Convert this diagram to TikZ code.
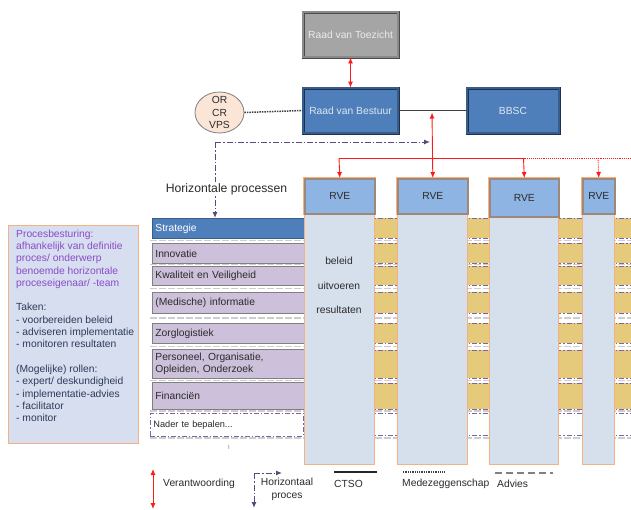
\documentclass[tikz,border=0pt]{standalone}
\usepackage{fontspec}
\setmainfont{Liberation Sans}
\usetikzlibrary{arrows.meta,shapes.geometric}
\definecolor{rvtfill}{HTML}{A5A5A5}
\definecolor{rvtdark}{HTML}{4A4A4A}
\definecolor{rvtmid}{HTML}{8A8A8A}
\definecolor{bluefill}{HTML}{4F7FBA}
\definecolor{bluedark}{HTML}{1E3250}
\definecolor{bluemid}{HTML}{385D8A}
\definecolor{bluetext}{HTML}{DCE6F2}
\definecolor{peach}{HTML}{FBE5D6}
\definecolor{rvehead}{HTML}{8DB4E2}
\definecolor{rveborder}{HTML}{A08878}
\definecolor{orangeb}{HTML}{F4B183}
\definecolor{colfill}{HTML}{D6E0EC}
\definecolor{goldc}{HTML}{E6CA7C}
\definecolor{lav}{HTML}{CCC0DA}
\definecolor{plinec}{HTML}{8064A2}
\definecolor{parrow}{HTML}{5B4A7E}
\definecolor{sepgray}{HTML}{CDCDCD}
\definecolor{infofill}{HTML}{D6DEF0}
\definecolor{purtext}{HTML}{8B4BC8}
\definecolor{navytext}{HTML}{2E3A59}
\definecolor{redc}{HTML}{FF1A1A}
\definecolor{darkline}{HTML}{404040}
\definecolor{bartext}{HTML}{2B2B2B}
\begin{document}
\begin{tikzpicture}[x=1pt,y=-1pt,font=\fontsize{10.3}{12}\selectfont,
  topbox/.style={rectangle,inner sep=0pt,minimum width=95pt,minimum height=45pt,line width=0.9pt},
  rvtbox/.style={topbox,fill=rvtfill,draw=rvtdark,double=rvtmid,double distance=1.2pt,text=white!92!black},
  bluebox/.style={topbox,fill=bluefill,draw=bluedark,double=bluemid,double distance=1.2pt,text=bluetext},
  rvehd/.style={rectangle,anchor=north west,inner sep=0pt,fill=rvehead,
    preaction={draw=orangeb,line width=3pt},draw=rveborder,line width=1.6pt,text=bartext},
  colbody/.style={rectangle,anchor=north west,inner sep=0pt,fill=colfill,draw=orangeb,line width=1.2pt},
  bar/.style={rectangle,anchor=north west,minimum width=154pt,text width=148pt,inner xsep=3pt,
    inner ysep=0pt,align=left,draw=gray,line width=0.8pt,fill=lav,text=bartext},
  rline/.style={draw=redc,line width=0.9pt},
  redarr/.style={rline,{Latex[length=6pt,width=5pt]}-{Latex[length=6pt,width=5pt]}},
  reddown/.style={rline,-{Latex[length=6pt,width=5pt]}},
  purarr/.style={draw=parrow,line width=1pt,dash pattern=on 6pt off 2pt on 1.5pt off 2pt,-{Latex[length=6pt,width=5pt]}},
  stripline/.style={draw=plinec,line width=0.9pt,dash pattern=on 5pt off 2pt on 1.5pt off 2pt},
  sepline/.style={draw=sepgray,line width=1.8pt,dash pattern=on 7pt off 2pt},
  rvetxt/.style={text=bartext,inner sep=1pt},
  legtxt/.style={text=bartext,anchor=west,inner sep=0pt}]
\fill[white] (0,0) rectangle (631,509);
\useasboundingbox (0,0) rectangle (631,509);

% horizontal strips behind the columns
\foreach \t/\b in {218/238,243/263,266/285,292/313,323/343,350/378,383/409}{
  \fill[goldc] (304,\t) rectangle (631,\b);
  \draw[stripline] (304,\t) -- (631,\t);
  \draw[stripline] (304,\b) -- (631,\b);
}
\draw[stripline] (304,413) -- (631,413);
\draw[stripline] (304,435) -- (631,435);
\foreach \y in {240.5,264.5,288.5,318,346.5,380.5,411,438}{
  \draw[sepline] (150,\y) -- (631,\y);
}

% top level
\node[rvtbox] (rvt) at (350.5,34.5) {Raad van Toezicht};
\node[bluebox] (rvb) at (350.5,110.5) {Raad van Bestuur};
\node[bluebox,minimum width=92pt] (bbsc) at (513,110.5) {BBSC};
\node[ellipse,draw=gray,line width=0.8pt,fill=peach,minimum width=49pt,minimum height=41pt,inner sep=0pt] (orcr) at (219.5,112.5) {};
\node[align=center,inner sep=0pt,text=bartext,font=\fontsize{10.3}{12.5}\selectfont] (orcrtxt) at (219.5,112.5) {OR\\CR\\VPS};

\draw[darkline,line width=1.5pt,densely dotted] (orcr.east) -- (rvb.west);
\draw[darkline,line width=1.8pt] (rvb.east) -- (bbsc.west);
\draw[redarr] (rvt.south) -- (rvb.north);

% horizontal process bars
\node[bar,fill=bluefill,draw=bluemid,text=white,minimum height=20pt] (strat) at (152,218) {Strategie};
\node[bar,minimum height=20pt] (innov) at (152,243) {Innovatie};
\node[bar,minimum height=19pt] (kwal) at (152,266) {Kwaliteit en Veiligheid};
\node[bar,minimum height=21pt] (medi) at (152,292) {(Medische) informatie};
\node[bar,minimum height=20pt] (zorg) at (152,323) {Zorglogistiek};
\node[bar,minimum height=29pt,font=\fontsize{10.3}{12}\selectfont] (pers) at (152,349) {Personeel, Organisatie,\\Opleiden, Onderzoek};
\node[bar,minimum height=27pt] (fin) at (152,382) {Financiën};
\node[bar,fill=white,draw=plinec,dash pattern=on 5pt off 2pt on 1.5pt off 2pt,minimum width=153pt,text width=147pt,minimum height=23pt,font=\fontsize{9.2}{11}\selectfont] (nader) at (150,413) {Nader te bepalen...};
\node[text=gray,inner sep=0pt,font=\fontsize{6}{6}\selectfont] (tick) at (229,447) {I};

% columns
\node[colbody,minimum width=70pt,minimum height=251pt] (col1) at (304,213) {};
\node[colbody,minimum width=70pt,minimum height=251pt] (col2) at (397,213) {};
\node[colbody,minimum width=69pt,minimum height=248pt] (col3) at (489,216) {};
\node[colbody,minimum width=32pt,minimum height=251pt] (col4) at (582,213) {};
\node[rvehd,minimum width=70pt,minimum height=35pt] (rve1) at (304,178) {RVE};
\node[rvehd,minimum width=70pt,minimum height=35pt] (rve2) at (397,178) {RVE};
\node[rvehd,minimum width=69pt,minimum height=38pt] (rve3) at (489,178) {RVE};
\node[rvehd,minimum width=32pt,minimum height=35pt] (rve4) at (582,178) {RVE};
\node[rvetxt] (tbeleid) at (339,261) {beleid};
\node[rvetxt] (tuitv) at (339,286) {uitvoeren};
\node[rvetxt] (tres) at (339,310) {resultaten};

% red responsibility lines
\coordinate (jn) at (432,112.5);
\coordinate (rl) at (339,158);
\coordinate (rm) at (523.5,158);
\coordinate (rq) at (598,158);
\coordinate (rr) at (631,158);
\draw[redarr] (jn) -- (rve2.north);
\draw[rline] (rl) -- (rm);
\draw[rline,densely dotted] (rm) -- (rr);
\draw[reddown] (rl) -- (rve1.north);
\draw[reddown] (rm) -- (rve3.north);
\draw[reddown,densely dotted] (rq) -- (rve4.north);

% horizontal process arrow
\coordinate (dc) at (215,142);
\coordinate (de) at (430,142);
\draw[purarr] (dc) -- (de);
\draw[purarr] (dc) -- (dc |- strat.north);
\node[fill=white,inner sep=1pt,text=bartext,font=\fontsize{12.2}{14}\selectfont] (hproc) at (226.5,189) {Horizontale processen};

% info box
\node[rectangle,anchor=north west,draw=orangeb,fill=infofill,line width=1pt,minimum width=130pt,minimum height=218pt,inner sep=0pt] (info) at (8,225) {};
\node[anchor=north west,inner sep=0pt,align=left,font=\fontsize{10.3}{12.3}\selectfont] (infotxt) at (16,229.5) {%
\textcolor{purtext}{Procesbesturing:}\\
\textcolor{purtext}{afhankelijk van definitie}\\
\textcolor{purtext}{proces/ onderwerp}\\
\textcolor{purtext}{benoemde horizontale}\\
\textcolor{purtext}{proceseigenaar/ -team}\\[12.3pt]
\textcolor{navytext}{Taken:}\\
\textcolor{navytext}{- voorbereiden beleid}\\
\textcolor{navytext}{- adviseren implementatie}\\
\textcolor{navytext}{- monitoren resultaten}\\[12.3pt]
\textcolor{navytext}{(Mogelijke) rollen:}\\
\textcolor{navytext}{- expert/ deskundigheid}\\
\textcolor{navytext}{- implementatie-advies}\\
\textcolor{navytext}{- facilitator}\\
\textcolor{navytext}{- monitor}};

% legend
\coordinate (la) at (153,469);
\coordinate (lb) at (153,509);
\draw[redarr] (la) -- (lb);
\node[legtxt] (lverant) at (163,483.5) {Verantwoording};
\coordinate (hc) at (254,473);
\coordinate (hr) at (282,473);
\coordinate (hb) at (254,508);
\draw[purarr] (hc) -- (hr);
\draw[purarr] (hc) -- (hb);
\node[text=bartext,align=center,inner sep=0pt,font=\fontsize{10.3}{13}\selectfont] (lhor) at (287,489.5) {Horizontaal\\proces};
\coordinate (ca) at (334,472);
\coordinate (cb) at (377,472);
\draw[black!85,line width=1.6pt] (ca) -- (cb);
\node[legtxt] (lctso) at (334,483.5) {CTSO};
\coordinate (ma) at (403,472);
\coordinate (mb) at (445,472);
\draw[darkline,line width=1.3pt,densely dotted] (ma) -- (mb);
\node[legtxt] (lmede) at (402,484) {Medezeggenschap};
\coordinate (aa) at (495,473);
\coordinate (ab) at (553,473);
\draw[gray,line width=1.6pt,dash pattern=on 7pt off 4pt] (aa) -- (ab);
\node[legtxt] (ladv) at (497,484) {Advies};
\end{tikzpicture}
\end{document}
